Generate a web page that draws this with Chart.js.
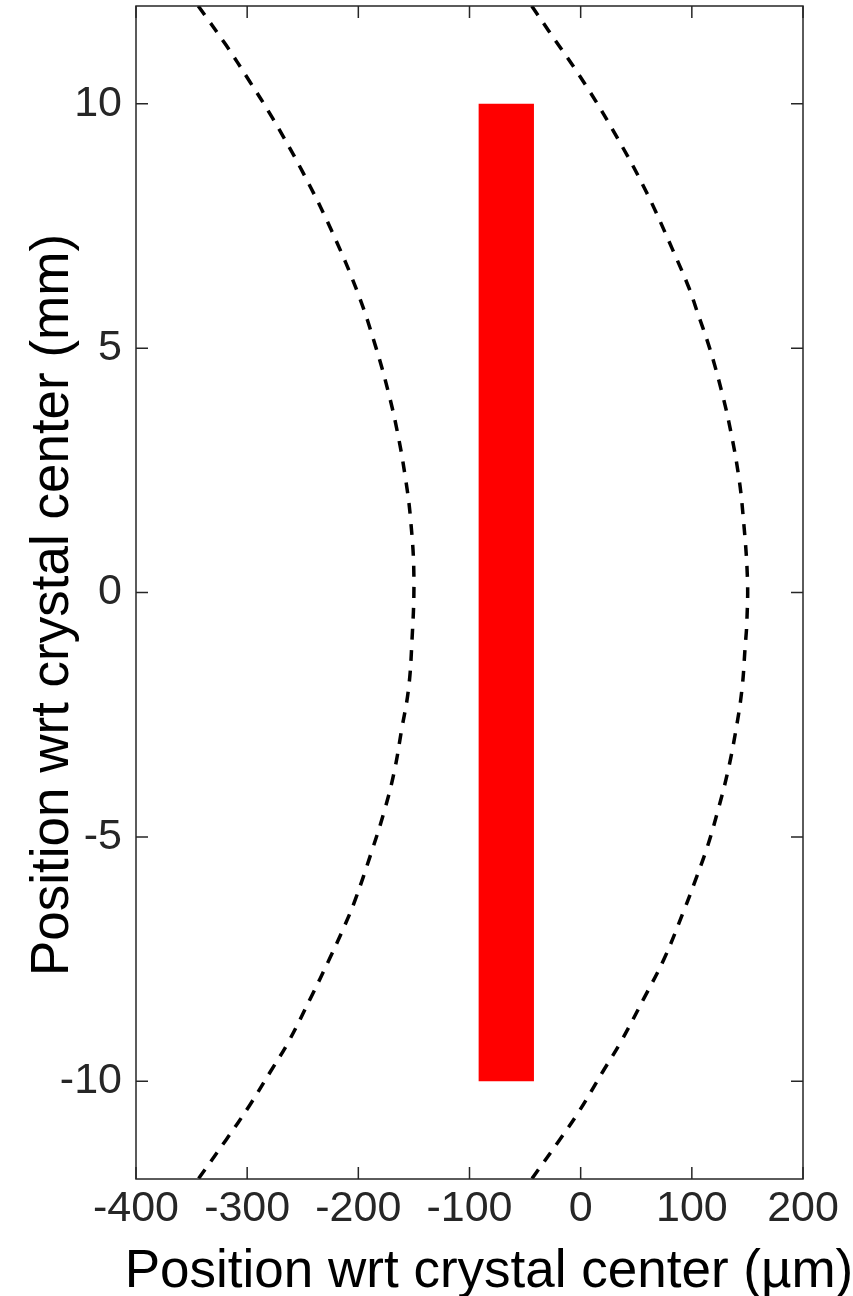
<!DOCTYPE html>
<html>
<head>
<meta charset="utf-8">
<title>Position wrt crystal center</title>
<script src="https://cdn.jsdelivr.net/npm/chart.js@4"></script>
<style>
  html, body { margin: 0; padding: 0; background: #fff; }
  #wrap { width: 853px; height: 1296px; position: relative; }
</style>
</head>
<body>
<div id="wrap"><canvas id="crystalChart"></canvas></div>
<script>
// axis ticks
const xTicks = [-400, -300, -200, -100, 0, 100, 200];
const yTicks = [-10, -5, 0, 5, 10];

// left dashed boundary (um, mm)
const leftX = [-344, -319, -299, -277, -250, -224, -200, -184, -173, -165, -158, -153, -150,
  -152, -155, -161, -168, -177, -188, -203, -212, -226, -243, -263, -279, -298, -319, -344];
const leftY = [12, 11.2, 10.5, 9.7, 8.6, 7.4, 6.1, 5.0, 4.1, 3.3, 2.4, 1.5, 0.3,
  -1.1, -2.0, -2.8, -3.7, -4.5, -5.3, -6.3, -6.8, -7.5, -8.3, -9.2, -9.8, -10.5, -11.2, -12];

// right dashed boundary (um, mm)
const rightX = [-44, -29, 4, 33, 59, 83, 98, 104, 116, 127, 135, 142, 146, 150,
  149.5, 148, 145, 139, 132, 123, 114, 103, 93, 75, 57, 36, 20, -1, -19, -44];
const rightY = [12, 11.5, 10.4, 9.3, 8.2, 7.0, 6.2, 5.8, 5.0, 4.1, 3.3, 2.4, 1.6, 0.3,
  -0.6, -1.1, -2.0, -2.9, -3.7, -4.5, -5.2, -5.9, -6.5, -7.5, -8.3, -9.2, -9.8, -10.6, -11.2, -12];

// red beam strip
const beamX = [-92, -42];
const beamTop = 10;
const beamBottom = -10;

const axisColor = '#262626';
const fontFamily = '"Liberation Sans", Arial, Helvetica, sans-serif';

function toPoints(xs, ys) {
  return xs.map((x, i) => ({ x: x, y: ys[i] }));
}

// frame, inward ticks and axis titles
const framePlugin = {
  id: 'frame',
  afterDraw(chart) {
    const ctx = chart.ctx;
    const a = chart.chartArea;
    const xs = chart.scales.x;
    const ys = chart.scales.y;
    const tl = 12;
    ctx.save();
    ctx.strokeStyle = axisColor;
    ctx.lineWidth = 1.5;
    ctx.strokeRect(a.left, a.top, a.right - a.left, a.bottom - a.top);
    ctx.beginPath();
    xTicks.forEach(v => {
      const px = xs.getPixelForValue(v);
      ctx.moveTo(px, a.bottom); ctx.lineTo(px, a.bottom - tl);
      ctx.moveTo(px, a.top); ctx.lineTo(px, a.top + tl);
    });
    yTicks.forEach(v => {
      const py = ys.getPixelForValue(v);
      ctx.moveTo(a.left, py); ctx.lineTo(a.left + tl, py);
      ctx.moveTo(a.right, py); ctx.lineTo(a.right - tl, py);
    });
    ctx.stroke();

    ctx.fillStyle = '#000';
    ctx.font = '53px ' + fontFamily;
    ctx.textAlign = 'center';
    ctx.textBaseline = 'alphabetic';
    ctx.fillText('Position wrt crystal center (µm)', 489, 1287);

    ctx.translate(68, 605);
    ctx.rotate(-Math.PI / 2);
    ctx.fillText('Position wrt crystal center (mm)', 0, 0);
    ctx.restore();
  }
};

const curveStyle = {
  showLine: true,
  borderColor: '#000',
  borderWidth: 3.5,
  borderDash: [11, 10],
  pointRadius: 0,
  tension: 0.4,
  fill: false
};

const ctx = document.getElementById('crystalChart').getContext('2d');
const chart = new Chart(ctx, {
  type: 'scatter',
  data: {
    datasets: [
      {
        label: 'beam',
        data: toPoints(beamX, [beamTop, beamTop]),
        showLine: true,
        borderWidth: 0,
        borderColor: 'rgba(0,0,0,0)',
        backgroundColor: '#ff0000',
        pointRadius: 0,
        fill: { value: beamBottom }
      },
      Object.assign({ label: 'left', data: toPoints(leftX, leftY) }, curveStyle),
      Object.assign({ label: 'right', data: toPoints(rightX, rightY) }, curveStyle)
    ]
  },
  options: {
    responsive: true,
    maintainAspectRatio: false,
    animation: false,
    layout: { padding: { top: 6, right: 50, left: 0, bottom: 0 } },
    plugins: {
      legend: { display: false },
      tooltip: { enabled: false },
      filler: { drawTime: 'beforeDatasetsDraw' }
    },
    scales: {
      x: {
        type: 'linear',
        min: -400,
        max: 200,
        afterBuildTicks: s => { s.ticks = xTicks.map(v => ({ value: v })); },
        afterFit: s => { s.height = 117; s.paddingLeft = 0; s.paddingRight = 0; },
        grid: { display: false },
        border: { display: false },
        ticks: {
          padding: -4,
          color: axisColor,
          font: { family: fontFamily, size: 43 },
          maxRotation: 0,
          autoSkip: false,
          callback: v => String(v)
        }
      },
      y: {
        type: 'linear',
        min: -12,
        max: 12,
        afterBuildTicks: s => { s.ticks = yTicks.map(v => ({ value: v })); },
        afterFit: s => { s.width = 136; s.paddingTop = 0; s.paddingBottom = 0; },
        grid: { display: false },
        border: { display: false },
        ticks: {
          padding: 6,
          color: axisColor,
          font: { family: fontFamily, size: 43 },
          autoSkip: false,
          callback: v => String(v)
        }
      }
    }
  },
  plugins: [framePlugin]
});
</script>
</body>
</html>
